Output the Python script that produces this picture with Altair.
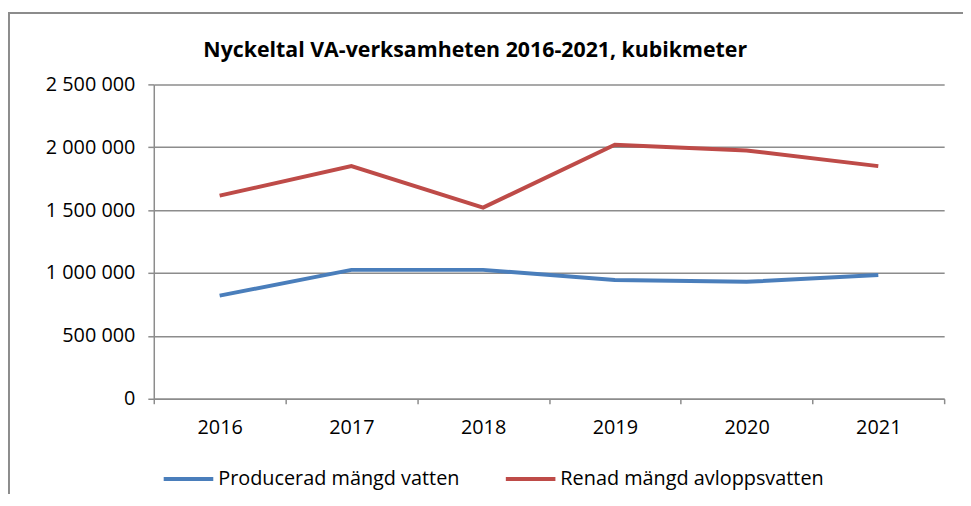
import altair as alt
import pandas as pd

years = ["2016", "2017", "2018", "2019", "2020", "2021"]
produced = [820000, 1025000, 1025000, 945000, 930000, 985000]
treated = [1615000, 1850000, 1520000, 2020000, 1975000, 1850000]
series_names = ["Producerad mängd vatten", "Renad mängd avloppsvatten"]
series_colors = ["#4A7EBB", "#BE4B48"]
y_ticks = [0, 500000, 1000000, 1500000, 2000000, 2500000]
title_text = "Nyckeltal VA-verksamheten 2016-2021, kubikmeter"

rows = []
for y, p, t in zip(years, produced, treated):
    rows.append({"year": y, "series": series_names[0], "value": p})
    rows.append({"year": y, "series": series_names[1], "value": t})
df = pd.DataFrame(rows)

FONT = "Open Sans"
GRAY = "#8c8c8c"

lines = alt.Chart(df).mark_line(strokeWidth=4).encode(
    x=alt.X(
        "year:O",
        sort=years,
        scale=alt.Scale(type="band", paddingInner=0, paddingOuter=0),
        bandPosition=0.5,
        axis=alt.Axis(
            title=None,
            labelAngle=0,
            tickBand="extent",
            domainColor=GRAY,
            domainWidth=1.5,
            tickColor=GRAY,
            tickWidth=1.5,
            tickSize=5,
            labelPadding=14,
            labelFontSize=20,
            labelFont=FONT,
            labelColor="#000000",
            grid=False,
        ),
    ),
    y=alt.Y(
        "value:Q",
        scale=alt.Scale(domain=[0, 2500000], nice=False),
        axis=alt.Axis(
            title=None,
            values=y_ticks,
            labelExpr="replace(replace(format(datum.value, ','), ',', ' '), ',', ' ')",
            domainColor=GRAY,
            domainWidth=1.5,
            tickColor=GRAY,
            tickWidth=1.5,
            tickSize=6,
            labelPadding=13,
            labelFontSize=20,
            labelFont=FONT,
            labelColor="#000000",
            gridColor=GRAY,
            gridWidth=1.5,
        ),
    ),
    color=alt.Color(
        "series:N",
        sort=series_names,
        scale=alt.Scale(domain=series_names, range=series_colors),
        legend=alt.Legend(
            title=None,
            orient="none",
            legendX=8,
            legendY=371,
            direction="horizontal",
            symbolType="stroke",
            symbolSize=2500,
            symbolStrokeWidth=4,
            labelFontSize=20,
            labelFont=FONT,
            labelColor="#000000",
            labelOffset=3,
            labelLimit=500,
            columnPadding=38,
            padding=0,
        ),
    ),
)

one = alt.Data(values=[{"t": title_text}])

title = alt.Chart(one).mark_text(
    align="left", baseline="alphabetic", fontSize=21.5, font=FONT,
    fontWeight="bold", color="#000000"
).encode(x=alt.value(50), y=alt.value(-28), text="t:N")

frame_left = alt.Chart(one).mark_rule(color=GRAY, strokeWidth=2).encode(
    x=alt.value(-146), y=alt.value(-72), y2=alt.value(700)
)
frame_top = alt.Chart(one).mark_rule(color=GRAY, strokeWidth=2).encode(
    x=alt.value(-147), x2=alt.value(900), y=alt.value(-72)
)

chart = alt.layer(frame_left, frame_top, title, lines).properties(
    width=797,
    height=317,
    autosize=alt.AutoSizeParams(type="none"),
    padding={"left": 147, "top": 75, "right": 19, "bottom": 94},
).configure_view(stroke=None)

chart.save("out.html", embed_options={"renderer": "svg", "actions": False})
